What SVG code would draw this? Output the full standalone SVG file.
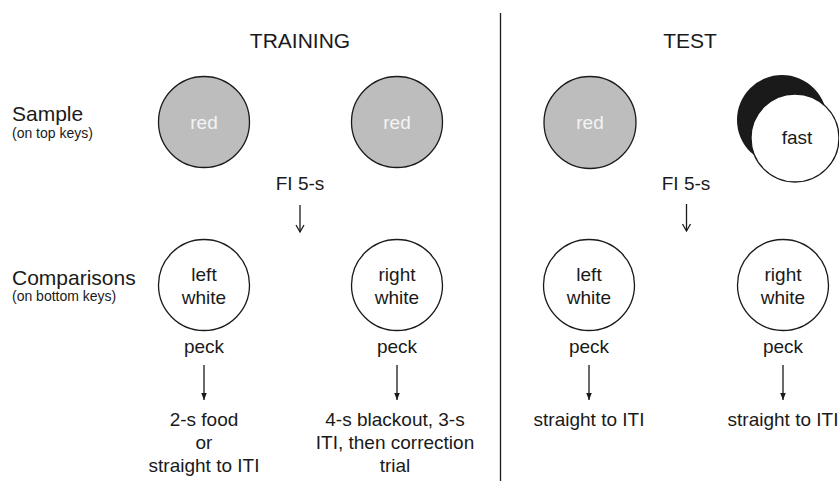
<svg xmlns="http://www.w3.org/2000/svg" width="839" height="482" viewBox="0 0 839 482">
<style>
text{font-family:"Liberation Sans",Arial,sans-serif;fill:#1a1a1a;text-anchor:middle}
.big{font-size:21px}
.small{font-size:14px;text-anchor:start}
.lbl{font-size:19px}
.red{font-size:19px;fill:#f4f4f4}
.gray{fill:#bdbdbd;stroke:#1a1a1a;stroke-width:1.3}
.wht{fill:#fff;stroke:#1a1a1a;stroke-width:1.3}
.ln{stroke:#1a1a1a;stroke-width:1.3;fill:none}
</style>
<defs>
<marker id="fill" markerWidth="8" markerHeight="6" refX="7" refY="3" orient="auto" markerUnits="userSpaceOnUse" viewBox="0 0 8 6">
<path d="M0,0.2 L7,3 L0,5.8 Z" fill="#1a1a1a"/>
</marker>
</defs>
<g id="titles">
<text class="big" x="300" y="48">TRAINING</text>
<text class="big" x="690" y="48">TEST</text>
</g>
<g id="row-labels">
<text class="big" x="12" y="121" style="text-anchor:start">Sample</text>
<text class="small" x="12" y="138">(on top keys)</text>
<text class="big" x="12" y="285" style="text-anchor:start">Comparisons</text>
<text class="small" x="12" y="301">(on bottom keys)</text>
</g>
<g id="divider"><line class="ln" x1="500.5" y1="13" x2="500.5" y2="481"/></g>
<g id="train-sample1"><circle class="gray" cx="204" cy="122" r="45.5"/><text class="red" x="204" y="129">red</text></g>
<g id="train-sample2"><circle class="gray" cx="397" cy="122" r="45.5"/><text class="red" x="397" y="129">red</text></g>
<g id="test-sample1"><circle class="gray" cx="590" cy="122.5" r="46"/><text class="red" x="590" y="129">red</text></g>
<g id="test-sample2">
<circle cx="782" cy="120" r="45" fill="#1a1a1a"/>
<circle class="wht" cx="795" cy="138" r="44"/>
<text class="lbl" x="797" y="144">fast</text>
</g>
<g id="fi-train"><text class="lbl" x="300" y="190">FI 5-s</text></g>
<g id="fi-test"><text class="lbl" x="686" y="190">FI 5-s</text></g>
<g id="train-left"><circle class="wht" cx="204" cy="285" r="45.5"/><text class="lbl" x="204" y="281">left</text><text class="lbl" x="204" y="304">white</text></g>
<g id="train-right"><circle class="wht" cx="397" cy="285" r="45.5"/><text class="lbl" x="397" y="281">right</text><text class="lbl" x="397" y="304">white</text></g>
<g id="test-left"><circle class="wht" cx="589" cy="285" r="45.5"/><text class="lbl" x="589" y="281">left</text><text class="lbl" x="589" y="304">white</text></g>
<g id="test-right"><circle class="wht" cx="783" cy="285" r="45.5"/><text class="lbl" x="783" y="281">right</text><text class="lbl" x="783" y="304">white</text></g>
<g id="pecks">
<text class="lbl" x="204" y="353">peck</text>
<text class="lbl" x="397" y="353">peck</text>
<text class="lbl" x="589" y="353">peck</text>
<text class="lbl" x="783" y="353">peck</text>
</g>
<g id="outcomes">
<text class="lbl" x="204" y="426">2-s food</text>
<text class="lbl" x="204" y="449">or</text>
<text class="lbl" x="204" y="472">straight to ITI</text>
<text class="lbl" x="395" y="426">4-s blackout, 3-s</text>
<text class="lbl" x="395" y="449">ITI, then correction</text>
<text class="lbl" x="395" y="472">trial</text>
<text class="lbl" x="589" y="426">straight to ITI</text>
<text class="lbl" x="783" y="426">straight to ITI</text>
</g>
<g id="connectors">
<line class="ln" x1="300" y1="205" x2="300" y2="232"/>
<path class="ln" d="M296,225 L300,232 L304,225"/>
<line class="ln" x1="686.5" y1="204" x2="686.5" y2="231"/>
<path class="ln" d="M682.5,224 L686.5,231 L690.5,224"/>
<line class="ln" x1="204" y1="365" x2="204" y2="400" marker-end="url(#fill)"/>
<line class="ln" x1="397" y1="365" x2="397" y2="400" marker-end="url(#fill)"/>
<line class="ln" x1="589" y1="365" x2="589" y2="400" marker-end="url(#fill)"/>
<line class="ln" x1="783" y1="365" x2="783" y2="400" marker-end="url(#fill)"/>
</g>
</svg>
